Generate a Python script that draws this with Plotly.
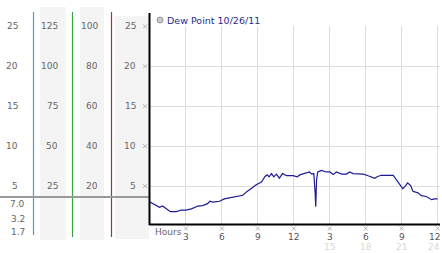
import plotly.graph_objects as go

# ---- data ----
hours = [0.0, 0.25, 0.5, 0.8, 1.05, 1.35, 1.7, 2.2, 2.6, 3.0, 3.45, 4.0, 4.4, 4.8, 5.0,
         5.25, 5.8, 6.2, 6.6, 7.2, 7.75, 8.05, 8.5, 8.9, 9.3, 9.6, 9.78, 9.94, 10.14,
         10.33, 10.55, 10.8, 11.05, 11.4, 11.94, 12.28, 12.5, 12.9, 13.3, 13.5, 13.67,
         13.78, 13.83, 13.9, 14.0, 14.3, 14.7, 15.0, 15.3, 15.55, 15.8, 16.0, 16.4,
         16.67, 16.94, 17.8, 18.2, 18.5, 18.75, 19.0, 19.3, 20.3, 20.56, 20.8, 21.1,
         21.33, 21.5, 21.75, 21.94, 22.36, 22.64, 23.06, 23.3, 23.5, 23.75, 24.0]
dew_point = [3.0, 2.8, 2.5, 2.35, 2.5, 2.2, 1.8, 1.8, 2.0, 2.0, 2.15, 2.5, 2.56, 2.8, 3.1,
             3.0, 3.1, 3.4, 3.5, 3.7, 3.85, 4.27, 4.77, 5.2, 5.5, 6.2, 6.4, 6.15, 6.56,
             6.15, 6.5, 6.0, 6.56, 6.3, 6.3, 6.15, 6.4, 6.56, 6.77, 6.5, 6.56,
             4.15, 2.4, 5.8, 6.77, 6.97, 6.77, 6.77, 6.44, 6.77, 6.65, 6.5, 6.5,
             6.77, 6.56, 6.5, 6.3, 6.15, 5.98, 6.2, 6.35, 6.35, 5.8, 5.3, 4.65,
             5.06, 5.4, 5.06, 4.35, 4.15, 3.8, 3.7, 3.5, 3.3, 3.4, 3.4]
series_name = "Dew Point 10/26/11"

y_ticks = [5, 10, 15, 20, 25]
col0_labels = ["5", "10", "15", "20", "25"]
col1_labels = ["25", "50", "75", "100", "125"]
col2_labels = ["20", "40", "60", "80", "100"]
col3_labels = ["5", "10", "15", "20", "25"]
extra_labels = ["7.0", "3.2", "1.7"]
x_ticks = [3, 6, 9, 12, 15, 18, 21, 24]
x_labels = ["3", "6", "9", "12", "3", "6", "9", "12"]
x_labels_24h = ["15", "18", "21", "24"]

# ---- layout helpers (pixel -> paper) ----
W, H = 442, 253
L, R, T, B = 150, 2, 26, 29
PW, PH = W - L - R, H - T - B
X_MAX, Y_MIN, Y_MAX = 24.2, 0.25, 25.05


def px(x):
    return (x - L) / PW


def py(y):
    return (H - B - y) / PH


def xpix(v):
    return L + v / X_MAX * PW


def ypix(v):
    return H - B - (v - Y_MIN) / (Y_MAX - Y_MIN) * PH


FONT = "DejaVu Sans"
fig = go.Figure()
fig.add_trace(go.Scatter(x=hours, y=dew_point, mode="lines",
                         line=dict(color="#1c1c94", width=1.2),
                         name=series_name, showlegend=False))

shapes = []
# grey strips behind left scales
for x0, x1, y0, y1 in [(40, 66, 7, 240), (80, 104, 7, 240), (115, 149, 16, 239)]:
    shapes.append(dict(type="rect", xref="paper", yref="paper", x0=px(x0), x1=px(x1),
                       y0=py(y1), y1=py(y0), fillcolor="#f4f4f4", line_width=0, layer="below"))
# coloured scale lines
for x, c, y1 in [(33.5, "#3aa6c8", 235), (72.5, "#3aa040", 237), (111.5, "#b03030", 237)]:
    shapes.append(dict(type="line", xref="paper", yref="paper", x0=px(x), x1=px(x),
                       y0=py(12), y1=py(y1), line=dict(color=c, width=1.2)))
# grey horizontal reference across left scales
shapes.append(dict(type="line", xref="paper", yref="paper", x0=px(0), x1=px(149),
                   y0=py(197), y1=py(197), line=dict(color="#999999", width=2)))
# black axes
shapes.append(dict(type="line", xref="paper", yref="paper", x0=px(149.5), x1=px(149.5),
                   y0=py(13), y1=py(225), line=dict(color="black", width=2)))
shapes.append(dict(type="line", xref="paper", yref="paper", x0=px(149), x1=px(440),
                   y0=py(224.5), y1=py(224.5), line=dict(color="black", width=2)))
# legend circle
shapes.append(dict(type="circle", xref="paper", yref="paper", x0=px(157), x1=px(163),
                   y0=py(23), y1=py(17), fillcolor="#c8c8c8", line=dict(color="#999999", width=1)))


# small tick glyphs (tiny crosses)
def cross(cx, cy, r=2.0):
    for dx in (-r, r):
        shapes.append(dict(type="line", xref="paper", yref="paper",
                           x0=px(cx - r), x1=px(cx + r), y0=py(cy - dx), y1=py(cy + dx),
                           line=dict(color="#b4b4b4", width=1)))


for v in y_ticks:
    cross(145, ypix(v))
for v in x_ticks:
    cross(min(xpix(v), 439), 228.5)

ann = []
tf = dict(family=FONT, size=9, color="#666666")
for v, a, b, c, d in zip(y_ticks, col0_labels, col1_labels, col2_labels, col3_labels):
    for txt, xr in [(a, 20), (b, 60), (c, 100), (d, 137.5)]:
        ann.append(dict(text=txt, x=px(xr), xref="paper", y=v, yref="y", xanchor="right",
                        yanchor="middle", showarrow=False, font=tf))
for txt, yp in zip(extra_labels, [204, 218.5, 232]):
    ann.append(dict(text=txt, x=px(27), xref="paper", y=py(yp), yref="paper", xanchor="right",
                    yanchor="middle", showarrow=False, font=tf))
# x labels
ann.append(dict(text="Hours", x=px(153), xref="paper", y=py(232), yref="paper", xanchor="left",
                yanchor="middle", showarrow=False, font=tf))
for i, (xv, txt) in enumerate(zip(x_ticks, x_labels)):
    last = i == len(x_ticks) - 1
    ann.append(dict(text=txt, x=px(442) if last else xv, xref="paper" if last else "x",
                    y=py(236.5), yref="paper", xanchor="right" if last else "center",
                    yanchor="middle", showarrow=False, font=dict(family=FONT, size=9, color="#555555")))
for i, (xv, txt) in enumerate(zip(x_ticks[4:], x_labels_24h)):
    last = i == len(x_labels_24h) - 1
    ann.append(dict(text=txt, x=px(442) if last else xv, xref="paper" if last else "x",
                    y=py(247), yref="paper", xanchor="right" if last else "center",
                    yanchor="middle", showarrow=False, font=dict(family=FONT, size=9, color="#d8d8d8")))
# legend text
ann.append(dict(text=series_name, x=px(165), xref="paper", y=py(20), yref="paper", xanchor="left",
                yanchor="middle", showarrow=False, font=dict(family=FONT, size=9.5, color="#2a2a90")))

fig.update_layout(
    width=W, height=H, margin=dict(l=L, r=R, t=T, b=B, pad=0),
    paper_bgcolor="white", plot_bgcolor="white",
    xaxis=dict(range=[0, X_MAX], tickvals=x_ticks, showticklabels=False, ticks="",
               showgrid=True, gridcolor="#dddddd", gridwidth=1, zeroline=False, showline=False),
    yaxis=dict(range=[Y_MIN, Y_MAX], tickvals=y_ticks, showticklabels=False, ticks="",
               showgrid=True, gridcolor="#dddddd", gridwidth=1, zeroline=False, showline=False),
    shapes=shapes, annotations=ann, showlegend=False,
)
fig.write_html("out.html")
